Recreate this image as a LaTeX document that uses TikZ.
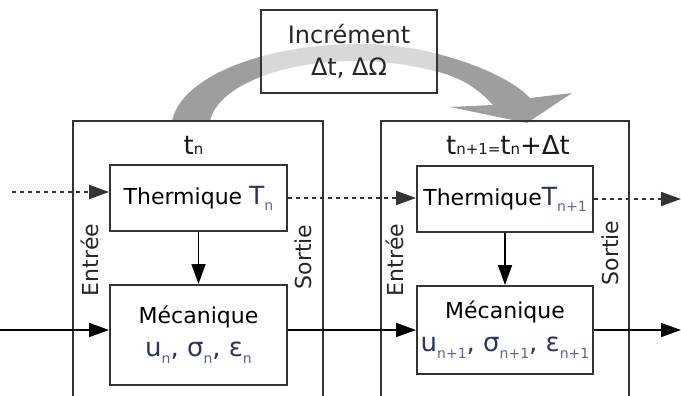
\documentclass[tikz,border=0pt]{standalone}
\usepackage{fontspec}
\setmainfont{DejaVu Sans}
\usetikzlibrary{arrows.meta,calc}
\definecolor{TmLine}{RGB}{51,51,51}
\definecolor{TmBand}{RGB}{158,158,158}
\definecolor{TmVar}{RGB}{45,52,92}
\definecolor{TmSub}{RGB}{98,98,140}
\newcommand{\tmsub}[1]{\raisebox{-0.5ex}{\fontsize{14}{14}\selectfont\color{TmSub}#1}}
\newcommand{\tmidx}[1]{{\fontsize{15}{15}\selectfont #1}}
\tikzset{
  tm/frame/.style={
    draw=TmLine,
    line width=2pt,
    minimum width=250pt,
    minimum height=290pt
  },
  tm/box/.style={
    draw=TmLine,
    line width=2pt,
    fill=white,
    align=center,
    minimum width=177pt,
    inner sep=2pt,
    font=\fontsize{22}{33}\selectfont
  },
  tm/incr/.style={
    draw=TmLine,
    line width=2pt,
    fill=white,
    fill opacity=0.6,
    text opacity=1,
    text=black!85,
    align=center,
    minimum width=176pt,
    minimum height=83pt,
    font=\fontsize{24}{32}\selectfont
  },
  tm/side/.style={rotate=90, font=\fontsize{22}{26}\selectfont, text=black!85},
  tm/time/.style={font=\fontsize{26}{28}\selectfont, text=black!90},
  tm/arrow/.style={-{Triangle[length=20pt,width=14pt]}, line width=1.8pt, draw=black},
  tm/dotarrow/.style={tm/arrow, dash pattern=on 4pt off 4pt, draw=TmLine}
}

\begin{document}
\begin{tikzpicture}[x=1pt,y=-1pt]
  \clip (0,0) rectangle (681,396);
  \fill[white] (0,0) rectangle (681,396);

  \fill[TmBand] (172,121) .. controls (185,60) and (330,28) .. (430,52)
    .. controls (480,64) and (515,82) .. (530,98) -- (572,93) -- (527,123)
    -- (450,107) -- (493,105) .. controls (475,85) and (455,75) .. (430,70)
    .. controls (330,45) and (220,75) .. (210,121) -- cycle;

  \node[tm/incr] (incr) at (349,51.5) {Incrément\\Δt, ΔΩ};

  \node[tm/frame] (frameL) at (198,266) {};
  \node[tm/frame,minimum width=248pt] (frameR) at (505,266) {};

  \node[tm/time] (timeL) at (193.5,145) {t\tmidx{n}};
  \node[tm/time] (timeR) at (508,145) {t\tmidx{n+1=}t\tmidx{n}+Δt};

  \node[tm/box,minimum height=66pt] (thermL) at (198.5,198) {Thermique {\fontsize{25}{25}\selectfont\color{TmVar}T}\tmsub{n}};
  \node[tm/box,minimum height=100pt] (mecaL) at (198.5,335) {Mécanique\\{\fontsize{26}{33}\selectfont\color{TmVar}u\tmsub{n}, σ\tmsub{n}, ε\tmsub{n}}};
  \node[tm/box,minimum width=176pt,minimum height=66pt] (thermR) at (505,199) {Thermique{\fontsize{25}{25}\selectfont\color{TmVar}T}\tmsub{n+1}};
  \node[tm/box,minimum width=176pt,minimum height=88pt] (mecaR) at (505,330) {Mécanique\\{\fontsize{26}{33}\selectfont\color{TmVar}u\tmsub{n+1}, σ\tmsub{n+1}, ε\tmsub{n+1}}};

  \node[tm/side] (inL) at (90,260) {Entrée};
  \node[tm/side] (outL) at (303,257) {Sortie};
  \node[tm/side] (inR) at (395,260) {Entrée};
  \node[tm/side] (outR) at (610,253) {Sortie};

  \coordinate (inT) at (12,192);
  \coordinate (outT) at (681,199);
  \coordinate (inM) at (0,330);
  \coordinate (outM) at (681,330);

  \draw[tm/dotarrow] (inT) -- (thermL.west |- inT);
  \draw[tm/dotarrow] (thermL.east) -- (thermL.east -| thermR.west);
  \draw[tm/dotarrow] (thermR.east) -- (outT);
  \draw[tm/arrow] (inM) -- (mecaL.west |- inM);
  \draw[tm/arrow] (mecaL.east |- inM) -- (mecaR.west);
  \draw[tm/arrow] (mecaR.east) -- (outM);
  \draw[tm/arrow] (thermL) -- (mecaL);
  \draw[tm/arrow] (thermR) -- (mecaR);
\end{tikzpicture}
\end{document}
